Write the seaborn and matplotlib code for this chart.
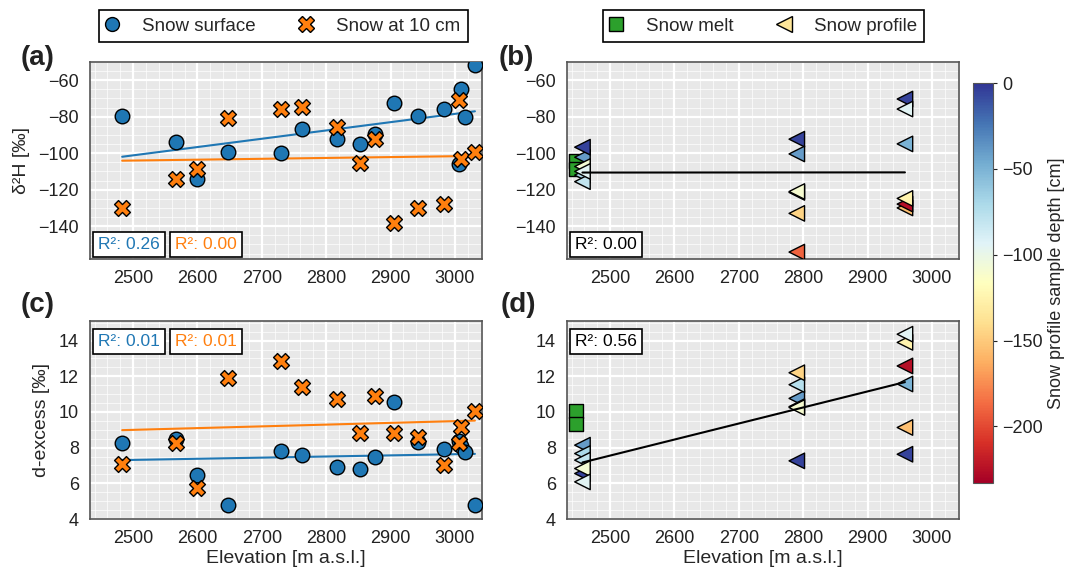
import numpy as np
import matplotlib.pyplot as plt
import matplotlib as mpl
from matplotlib.lines import Line2D
from matplotlib.ticker import AutoMinorLocator, MultipleLocator
import pandas as pd
import seaborn as sns

# snow surface / snow at 10 cm samples along the elevation transect
elev_surface = [2483, 2566, 2600, 2648, 2729, 2762, 2817, 2852, 2875, 2906, 2942, 2983, 3006, 3010, 3015, 3031]
d2h_surface = [-79.6, -93.6, -114.3, -99.6, -100.0, -86.8, -92.3, -94.9, -89.2, -72.7, -79.6, -76.0, -105.9, -64.8, -80.4, -51.4]
dex_surface = [8.25, 8.48, 6.45, 4.8, 7.84, 7.61, 6.94, 6.79, 7.45, 10.54, 8.29, 7.91, 8.38, 8.1, 7.73, 4.77]

elev_10cm = [2483, 2566, 2600, 2648, 2729, 2762, 2817, 2852, 2875, 2906, 2942, 2983, 3006, 3010, 3031]
d2h_10cm = [-130.3, -114.0, -108.8, -80.7, -75.8, -74.9, -85.7, -105.5, -92.3, -138.0, -130.3, -128.0, -70.8, -103.3, -99.6]
dex_10cm = [7.07, 8.25, 5.74, 11.88, 12.88, 11.38, 10.7, 8.83, 10.89, 8.83, 8.6, 7.05, 8.27, 9.13, 10.07]

# snow melt
elev_melt = [2447, 2447]
d2h_melt = [-104.3, -108.5]
dex_melt = [10.05, 9.30]

# snow profiles (three pits)
elev_profile = [2457] * 6 + [2790] * 6 + [2958] * 6
depth_profile = [-40, -70, -80, -5, -108, -95,
                 -5, -40, -190, -75, -145, -110,
                 -155, -225, -125, -5, -50, -95]
d2h_profile = [-102.2, -112.0, -115.6, -96.7, -107.3, -110.0,
               -92.3, -100.4, -154.2, -121.5, -133.0, -121.0,
               -130.0, -127.9, -124.8, -70.3, -94.9, -75.8]
dex_profile = [8.14, 7.67, 7.30, 6.55, 6.83, 6.08,
               7.26, 10.76, 10.3, 11.53, 12.2, 10.25,
               9.13, 12.58, 13.9, 7.63, 11.57, 14.36]

r2_a = ['0.26', '0.00']
r2_b = '0.00'
r2_c = ['0.01', '0.01']
r2_d = '0.56'

c_surf = '#1f77b4'
c_10 = '#ff7f0e'
c_melt = '#2ca02c'
depth_min = -233

sns.set_style('darkgrid', rc={'axes.facecolor': '#e8e8e8', 'axes.edgecolor': '#555555',
                              'grid.color': 'white', 'axes.linewidth': 1.2})
plt.rcParams['font.family'] = ['Liberation Sans', 'DejaVu Sans']
plt.rcParams['font.size'] = 13

surf = pd.DataFrame({'elev': elev_surface, 'd2h': d2h_surface, 'dex': dex_surface})
ten = pd.DataFrame({'elev': elev_10cm, 'd2h': d2h_10cm, 'dex': dex_10cm})
melt = pd.DataFrame({'elev': elev_melt, 'd2h': d2h_melt, 'dex': dex_melt})
prof = pd.DataFrame({'elev': elev_profile, 'depth': depth_profile, 'd2h': d2h_profile, 'dex': dex_profile})

fig = plt.figure(figsize=(10.69, 5.68), dpi=100)
W, H = 1069, 568


def box(l, t, r, b):
    return [l / W, (H - b) / H, (r - l) / W, (b - t) / H]


ax_a = fig.add_axes(box(90, 62, 482, 259))
ax_b = fig.add_axes(box(567, 62, 959, 259))
ax_c = fig.add_axes(box(90, 321, 482, 519))
ax_d = fig.add_axes(box(567, 321, 959, 519))
cax = fig.add_axes(box(973, 83, 993, 483))

cmap = mpl.colormaps['RdYlBu']
norm = mpl.colors.Normalize(vmin=depth_min, vmax=0)

for ax, var in [(ax_a, 'd2h'), (ax_c, 'dex')]:
    sns.regplot(data=surf, x='elev', y=var, ax=ax, scatter=False, ci=None, color=c_surf,
                line_kws=dict(lw=1.5, zorder=2))
    sns.regplot(data=ten, x='elev', y=var, ax=ax, scatter=False, ci=None, color=c_10,
                line_kws=dict(lw=1.5, zorder=2))
    sns.scatterplot(data=surf, x='elev', y=var, ax=ax, marker='o', s=110, color=c_surf,
                    edgecolor='black', linewidth=1, zorder=3)
    sns.scatterplot(data=ten, x='elev', y=var, ax=ax, marker='X', s=130, color=c_10,
                    edgecolor='black', linewidth=1, zorder=4)

for ax, var in [(ax_b, 'd2h'), (ax_d, 'dex')]:
    sns.scatterplot(data=melt, x='elev', y=var, ax=ax, marker='s', s=100, color=c_melt,
                    edgecolor='black', linewidth=1, zorder=3)
    sns.scatterplot(data=prof, x='elev', y=var, hue='depth', palette=cmap, hue_norm=norm,
                    ax=ax, marker='<', s=125, edgecolor='black', linewidth=1, legend=False, zorder=4)
    sns.regplot(data=prof, x='elev', y=var, ax=ax, scatter=False, ci=None, color='black',
                line_kws=dict(lw=1.5, zorder=5))

for ax in [ax_a, ax_b, ax_c, ax_d]:
    ax.set_xlim(2433, 3042)
    ax.xaxis.set_major_locator(MultipleLocator(100))
    ax.xaxis.set_minor_locator(AutoMinorLocator())
    ax.yaxis.set_minor_locator(AutoMinorLocator())
    ax.grid(which='major', color='white', lw=1.6)
    ax.grid(which='minor', color='white', lw=0.6, alpha=0.8)
    ax.tick_params(which='both', length=0, pad=8, labelsize=13, colors='#222222')
    ax.set_xlabel('')
    ax.set_ylabel('')
    for sp in ax.spines.values():
        sp.set_edgecolor('#555555')
        sp.set_linewidth(1.2)

for ax in [ax_a, ax_b]:
    ax.set_ylim(-158, -50)
    ax.yaxis.set_major_locator(MultipleLocator(20))
for ax in [ax_c, ax_d]:
    ax.set_ylim(4, 15.1)
    ax.yaxis.set_major_locator(MultipleLocator(2))
    ax.set_xlabel('Elevation [m a.s.l.]', fontsize=14, labelpad=2)

ax_a.set_ylabel('δ²H [‰]', fontsize=14, labelpad=6)
ax_c.set_ylabel('d-excess [‰]', fontsize=14, labelpad=6)

bb = dict(boxstyle='square,pad=0.3', fc='white', ec='black', lw=1.2)
ax_a.text(0.02, 0.05, f'R²: {r2_a[0]}', color=c_surf, transform=ax_a.transAxes, fontsize=12.5, bbox=bb, zorder=10)
ax_a.text(0.217, 0.05, f'R²: {r2_a[1]}', color=c_10, transform=ax_a.transAxes, fontsize=12.5, bbox=bb, zorder=10)
ax_b.text(0.02, 0.05, f'R²: {r2_b}', color='black', transform=ax_b.transAxes, fontsize=12.5, bbox=bb, zorder=10)
ax_c.text(0.02, 0.935, f'R²: {r2_c[0]}', color=c_surf, va='top', transform=ax_c.transAxes, fontsize=12.5, bbox=bb, zorder=10)
ax_c.text(0.217, 0.935, f'R²: {r2_c[1]}', color=c_10, va='top', transform=ax_c.transAxes, fontsize=12.5, bbox=bb, zorder=10)
ax_d.text(0.02, 0.935, f'R²: {r2_d}', color='black', va='top', transform=ax_d.transAxes, fontsize=12.5, bbox=bb, zorder=10)

for lab, x, y in [('(a)', 21, 58), ('(b)', 499, 58), ('(c)', 21, 305), ('(d)', 501, 305)]:
    fig.text(x / W, 1 - y / H, lab, fontsize=20, fontweight='bold', va='center', ha='left', color='#222222')

cb = fig.colorbar(mpl.cm.ScalarMappable(norm=norm, cmap=cmap), cax=cax)
cb.set_ticks([0, -50, -100, -150, -200])
cb.ax.tick_params(labelsize=13, length=3, colors='#222222')
cb.outline.set_edgecolor('#555555')
cb.set_label('Snow profile sample depth [cm]', fontsize=13, labelpad=4)

h1 = [Line2D([], [], ls='', marker='o', ms=10, mfc=c_surf, mec='black'),
      Line2D([], [], ls='', marker='X', ms=11, mfc=c_10, mec='black')]
h2 = [Line2D([], [], ls='', marker='s', ms=10, mfc=c_melt, mec='black'),
      Line2D([], [], ls='', marker='<', ms=11, mfc=cmap(0.42), mec='black')]
legkw = dict(ncol=2, loc='center', frameon=True, fancybox=False, edgecolor='black', facecolor='white',
             framealpha=1, fontsize=13.5, columnspacing=2.4, handlelength=0.6, handletextpad=1.3,
             borderpad=0.4)
lg1 = fig.legend(h1, ['Snow surface', 'Snow at 10 cm'], bbox_to_anchor=(283.5 / W, 1 - 26 / H), **legkw)
lg2 = fig.legend(h2, ['Snow melt', 'Snow profile'], bbox_to_anchor=(763.5 / W, 1 - 26 / H), **legkw)
for lg in [lg1, lg2]:
    lg.get_frame().set_linewidth(1.2)

fig.savefig('out.png', dpi=100)
